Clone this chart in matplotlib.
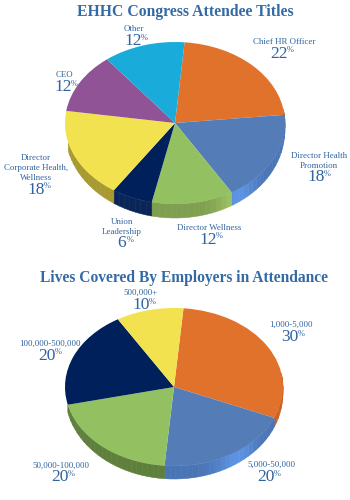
import numpy as np
import matplotlib
matplotlib.use('Agg')
import matplotlib.pyplot as plt
from matplotlib.colors import to_rgb

W, H = 350, 500
title_a = "EHHC Congress Attendee Titles"
labels_a = ["Chief HR Officer", "Director Health\nPromotion", "Director Wellness", "Union\nLeadership",
            "Director\nCorporate Health,\nWellness", "CEO", "Other"]
values_a = [22, 18, 12, 6, 18, 12, 12]
colors_a = ["#E1722C", "#547DB8", "#93C060", "#00205C", "#F3E24F", "#8F5396", "#19ACDB"]
side_a = ["#C9601F", "#4A75B5", "#7F9F50", "#0A2558", "#A89A30", "#704078", "#1590B8"]

title_b = "Lives Covered By Employers in Attendance"
labels_b = ["1,000-5,000", "5,000-50,000", "50,000-100,000", "100,000-500,000", "500,000+"]
values_b = [30, 20, 20, 20, 10]
colors_b = ["#E1722C", "#547DB8", "#93C060", "#00205C", "#F3E24F"]
side_b = ["#C9601F", "#4A75B5", "#5F7F3C", "#0A2558", "#A89A30"]

LABEL_POS_A = [(284, 42, 279, 54), (319, 161, 316, 177), (209, 228, 208, 240), (122, 227, 122, 243),
               (36, 168, 36, 190), (64, 75, 63, 87), (134, 29, 133, 41)]
LABEL_POS_B = [(291, 325, 290, 337), (271, 465, 266, 477), (61, 466, 60, 477), (50, 344, 47, 356), (141, 293, 141, 305)]

TEXT = "#2F63A0"
FONT = "Liberation Serif"
fig = plt.figure(figsize=(W/100, H/100), dpi=100, facecolor="white")


def shade(angle):
    d = (angle + 55 + 180) % 360 - 180
    return 1 + 0.26 * np.exp(-(d / 12.0) ** 2)


def taper(angle):
    return 0.3 + 0.7 * max(0.0, -np.sin(np.radians(angle))) ** 0.6


def draw_pie(values, colors, sides, cx, cy, rx, ry, depth, start):
    pad = depth + 2
    ax = fig.add_axes([(cx-rx-2)/W, 1-(cy+ry+pad)/H, (2*rx+4)/W, (ry*2+pad+2)/H])
    d = depth / ry
    a = start
    total = sum(values)
    for v, side in zip(values, sides):
        b = a - 360 * v / total
        grid = np.clip(np.arange(a, b - 3, -3.0), b, a)
        for p, q in zip(grid[:-1], grid[1:]):
            mid = (p + q) / 2
            s, c = np.sin(np.radians(mid)), np.cos(np.radians(mid))
            if (c >= 0 and s > 0.15) or (c < 0 and s > -0.25):
                continue
            col = np.clip(np.array(to_rgb(side)) * shade(mid), 0, 1)
            t = np.radians([p, q, q, p])
            off = d * np.array([0, 0, taper(q), taper(p)])
            ax.fill(np.cos(t), np.sin(t) - off, color=col, lw=0.4, zorder=1)
        a = b
    ax.pie(values, colors=colors, startangle=start, counterclock=False,
           radius=1, wedgeprops=dict(lw=0, zorder=3), frame=False)
    ax.set_aspect('auto')
    ax.set_xlim(-(rx+2)/rx, (rx+2)/rx)
    ax.set_ylim(-(ry+pad)/ry, (ry+2)/ry)
    ax.axis('off')


def label(s, x, y, px, py, v, fs):
    fig.text(x/W, 1-y/H, s, ha='center', va='center', color=TEXT, fontsize=fs,
             family=FONT, linespacing=1.35)
    fig.text(px/W, 1-py/H, str(v), ha='center', va='center', color=TEXT, fontsize=12.5, family=FONT)
    dx = 11.5 if v >= 10 else 8
    fig.text((px+dx)/W, 1-(py-3.5)/H, "%", ha='center', va='center', color=TEXT, fontsize=6, family=FONT)


draw_pie(values_a, colors_a, side_a, 175, 123, 110, 81, 14, 85)
draw_pie(values_b, colors_b, side_b, 174, 387, 109, 79, 13, 85)

fig.text(185/W, 1-12/H, title_a, ha='center', va='center', color="#336AA5", fontsize=11.3,
         family=FONT, weight='bold')
fig.text(184/W, 1-278/H, title_b, ha='center', va='center', color="#336AA5", fontsize=11.2,
         family=FONT, weight='bold')
for s, v, (x, y, px, py) in zip(labels_a, values_a, LABEL_POS_A):
    label(s, x, y, px, py, v, 6.4)
for s, v, (x, y, px, py) in zip(labels_b, values_b, LABEL_POS_B):
    label(s, x, y, px, py, v, 6.4)

fig.savefig("out.png", dpi=100)
